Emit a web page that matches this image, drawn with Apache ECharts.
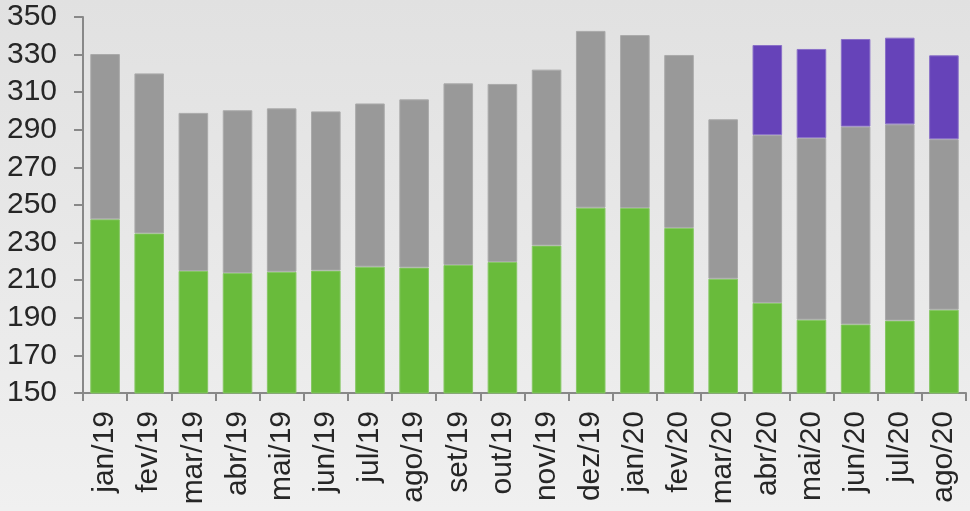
<!DOCTYPE html>
<html>
<head>
<meta charset="utf-8">
<script src="https://cdn.jsdelivr.net/npm/echarts@6/dist/echarts.min.js"></script>
<style>
  html, body { margin: 0; padding: 0; }
  #chart {
    width: 970px;
    height: 511px;
    background: linear-gradient(#e1e1e1, #f0f0f0);
  }
</style>
</head>
<body>
<div id="chart"></div>
<script>
// meses
const categories = ['jan/19', 'fev/19', 'mar/19', 'abr/19', 'mai/19', 'jun/19', 'jul/19', 'ago/19', 'set/19', 'out/19',
  'nov/19', 'dez/19', 'jan/20', 'fev/20', 'mar/20', 'abr/20', 'mai/20', 'jun/20', 'jul/20', 'ago/20']

// segmento verde (topo lido no eixo)
const verde = [242.4, 234.9, 214.9, 213.8, 214.5, 215.1, 217.2, 216.7, 218.1, 219.7,
  228.4, 248.6, 248.4, 237.8, 210.8, 197.9, 189.0, 186.5, 188.5, 194.3]

// segmento cinza (altura do segmento)
const cinza = [87.9, 85.1, 84.1, 86.6, 86.9, 84.7, 86.8, 89.5, 96.6, 94.7,
  93.6, 94.0, 92.0, 92.0, 84.8, 89.3, 96.6, 105.2, 104.4, 90.7]

// segmento roxo (so nos ultimos meses)
const roxo = [null, null, null, null, null, null, null, null, null, null,
  null, null, null, null, null, 47.9, 47.4, 46.6, 46.1, 44.6]

const yTicks = [150, 170, 190, 210, 230, 250, 270, 290, 310, 330, 350]

const chart = echarts.init(document.getElementById('chart'))

const fonte = {
  fontFamily: '"Liberation Sans", Arial, sans-serif',
  fontSize: 30,
  color: '#262626'
}

const serie = (nome, data, cor, borda) => ({
  name: nome,
  type: 'bar',
  stack: 'total',
  data: data,
  barCategoryGap: '33%',
  itemStyle: {
    color: cor,
    borderColor: borda,
    borderWidth: 1
  }
})

chart.setOption({
  backgroundColor: 'transparent',
  animation: false,
  grid: {
    left: 83,
    right: 4,
    top: 17,
    bottom: 118,
    containLabel: false
  },
  xAxis: {
    type: 'category',
    data: categories,
    axisLine: { lineStyle: { color: '#888', width: 2 } },
    axisTick: { show: true, length: 8, lineStyle: { color: '#888', width: 2 } },
    axisLabel: Object.assign({ rotate: 90, margin: 18, interval: 0 }, fonte)
  },
  yAxis: {
    type: 'value',
    min: 150,
    max: 350,
    splitLine: { show: false },
    axisLine: { show: true, lineStyle: { color: '#888', width: 2 } },
    axisTick: { show: true, length: 9, customValues: yTicks, lineStyle: { color: '#888', width: 2 } },
    axisLabel: Object.assign({ margin: 26, customValues: yTicks }, fonte)
  },
  series: [
    serie('verde', verde, '#69bb3b', '#86c764'),
    serie('cinza', cinza, '#999999', '#aaaaaa'),
    serie('roxo', roxo, '#6643b9', '#8a70c8')
  ]
})
</script>
</body>
</html>
